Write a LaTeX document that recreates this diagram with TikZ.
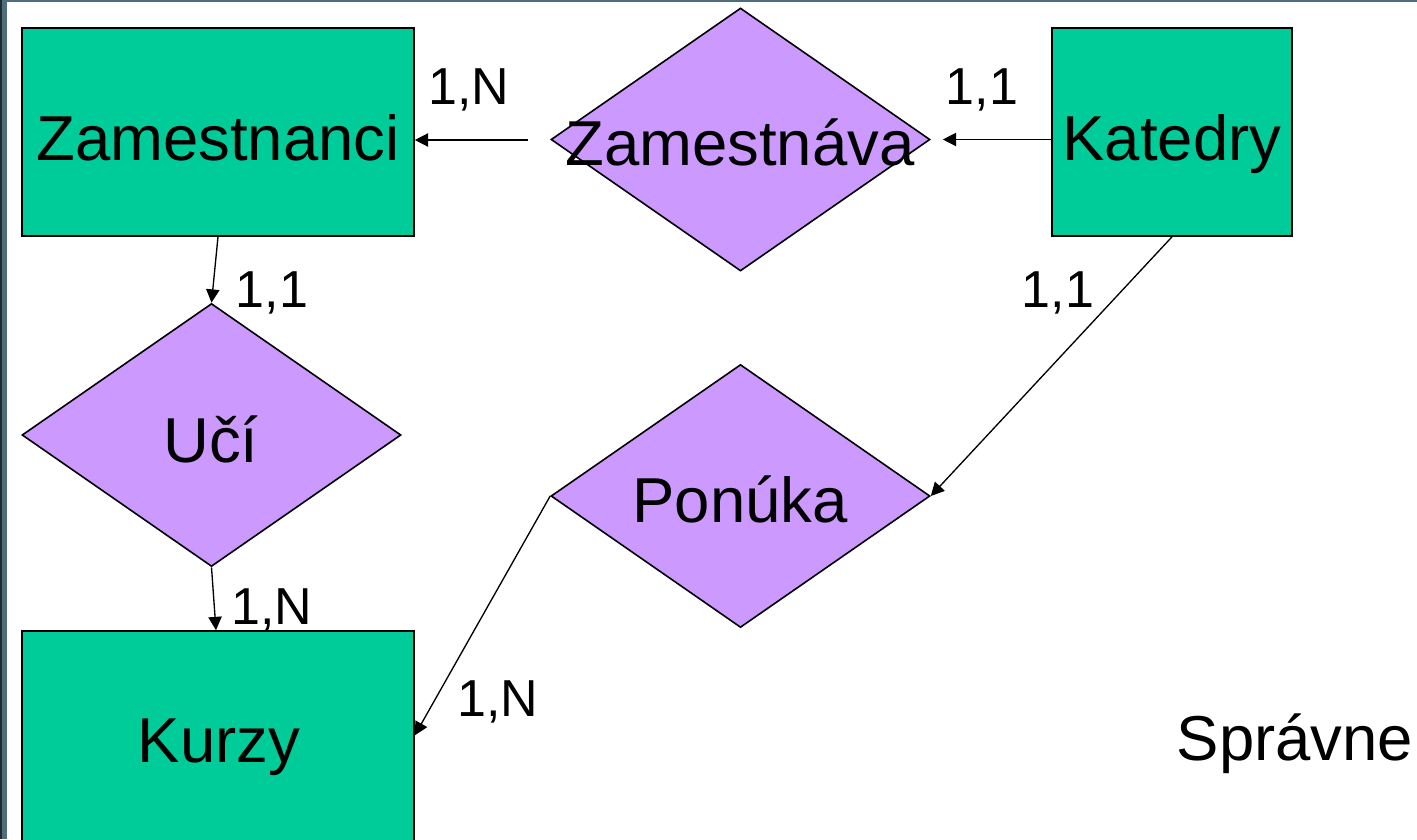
\documentclass[tikz,border=0pt]{standalone}
\usepackage{fontspec}
\setmainfont{Liberation Sans}
\usetikzlibrary{shapes.geometric,arrows.meta}
\definecolor{ent}{HTML}{00CC99}
\definecolor{rel}{HTML}{CC99FF}
\definecolor{barA}{HTML}{1E2B33}
\definecolor{barB}{HTML}{4E6E7B}
\tikzset{
  entity/.style={draw=black,line width=1.2pt,fill=ent,rectangle,inner sep=0pt},
  relation/.style={draw=black,line width=1.2pt,fill=rel,diamond,inner sep=0pt,minimum width=284.25pt,minimum height=197.25pt},
  bigtext/.style={font=\fontsize{47.6}{50}\selectfont,inner sep=0pt,anchor=base},
  card/.style={font=\fontsize{39}{41}\selectfont,inner sep=0pt,anchor=base},
  arr/.style={line width=1pt,-{Triangle[length=10pt,width=10pt]}}
}
\begin{document}
\begin{tikzpicture}[x=0.75pt,y=-0.75pt]
\useasboundingbox (0,0) rectangle (1417,839);
\fill[white] (0,0) rectangle (1417,839);
\fill[barB] (0,0) rectangle (1417,1.5);
\fill[barB] (2,0) rectangle (7,839);
\fill[barA] (0,0) rectangle (2,839);
% entities
\node[entity,minimum width=294pt,minimum height=156pt] (zamestnanci) at (218,132) {};
\node[entity,minimum width=180pt,minimum height=156pt] (katedry) at (1172,132) {};
\node[entity,minimum width=294pt,minimum height=160.5pt] (kurzy) at (218,738) {};
% relations
\node[relation] (zamestnava) at (740.5,139.5) {};
\node[relation] (uci) at (211.5,435) {};
\node[relation] (ponuka) at (740.5,496) {};
% texts
\node[bigtext] (tZn) at (218,160) {Zamestnanci};
\node[bigtext] (tKa) at (1172,160) {Katedry};
\node[bigtext] (tKu) at (219,762) {Kurzy};
\node[bigtext] (tZv) at (740,165) {Zamestnáva};
\node[bigtext] (tUc) at (211,462) {Učí};
\node[bigtext] (tPo) at (740,522) {Ponúka};
\node[bigtext] (tSp) at (1295,760) {Správne};
% cardinalities
\node[card] (c1) at (469,104) {1,N};
\node[card] (c2) at (982,104) {1,1};
\node[card] (c3) at (272,307) {1,1};
\node[card] (c4) at (1058,307) {1,1};
\node[card] (c5) at (272,624) {1,N};
\node[card] (c6) at (498,716) {1,N};
% connectors
\coordinate (zs) at (528,140);
\draw[arr] (zs) -- (zamestnanci.east |- zs);
\draw[arr,shorten >=9pt] (katedry.west |- zamestnava.east) -- (zamestnava.east);
\draw[arr] (zamestnanci.south) -- (uci.north);
\draw[arr] (uci.south) -- ([xshift=-1.5pt]kurzy.north);
\draw[arr] (katedry.south) -- (ponuka.east);
\draw[arr] (ponuka.west) -- ([yshift=2pt]kurzy.east);
\end{tikzpicture}
\end{document}
